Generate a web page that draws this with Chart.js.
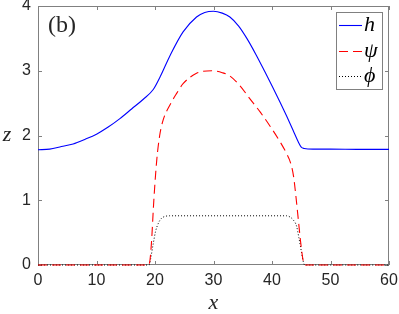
<!DOCTYPE html>
<html>
<head>
<meta charset="utf-8">
<script src="https://cdn.jsdelivr.net/npm/chart.js@4.4.1/dist/chart.umd.min.js"></script>
<style>
  html, body { margin: 0; padding: 0; background: #fff; }
  canvas { display: block; }
</style>
</head>
<body>
<canvas id="profileChart" width="399" height="314"></canvas>
<script>
// --- data ---
const hX   = [0, 2, 4, 6, 8, 10, 12, 14, 16, 18, 19.7, 20.9, 22.6, 24.8, 27.1, 28.5, 30, 31.5, 32.8, 34.3, 35.7, 37.2, 38.7, 40.1, 41.4, 42.5, 43.6, 44.5, 45.0, 45.5, 47, 50, 55, 60];
const hZ   = [1.78, 1.79, 1.83, 1.87, 1.94, 2.02, 2.13, 2.26, 2.41, 2.56, 2.71, 2.91, 3.24, 3.60, 3.83, 3.90, 3.92, 3.89, 3.83, 3.69, 3.50, 3.26, 3.00, 2.75, 2.51, 2.30, 2.08, 1.90, 1.82, 1.80, 1.79, 1.79, 1.785, 1.785];

const psiX = [0, 18.8, 19.1, 19.4, 19.8, 20.3, 20.8, 21.4, 22.6, 23.7, 24.8, 27.1, 29.7, 31.5, 32.8, 34.5, 36.2, 38, 39.7, 41.4, 42.5, 43.2, 43.7, 44.1, 44.5, 44.9, 45.3, 45.6, 60];
const psiZ = [0, 0, 0.05, 0.35, 1.0, 1.62, 2.0, 2.24, 2.48, 2.65, 2.80, 2.96, 3.0, 2.97, 2.92, 2.77, 2.57, 2.36, 2.14, 1.90, 1.72, 1.57, 1.36, 1.05, 0.7, 0.35, 0.08, 0, 0];

const phiX = [0, 19.0, 19.3, 19.7, 20.1, 20.6, 21.1, 21.7, 22.5, 30, 42.5, 43.1, 43.6, 44.2, 44.6, 45.0, 45.35, 45.6, 60];
const phiZ = [0, 0, 0.12, 0.33, 0.52, 0.65, 0.72, 0.75, 0.76, 0.76, 0.76, 0.74, 0.70, 0.60, 0.42, 0.22, 0.05, 0, 0];

const xTicks = [0, 10, 20, 30, 40, 50, 60];
const zTicks = [0, 1, 2, 3, 4];
const seriesNames = ['h', 'ψ', 'ϕ'];

const toPoints = (xs, ys) => xs.map((x, i) => ({ x: x, y: ys[i] }));

const AXIS_COLOR = '#808080';
const TEXT_COLOR = '#262626';
const SERIF_IT = 'italic 22px "Liberation Serif", "DejaVu Serif", serif';

// no overhang padding for tick labels, fixed axis sizes
function fixBox(size) {
    return s => {
        if (s.isHorizontal()) s.height = size; else s.width = size;
        s.paddingLeft = s.paddingRight = s.paddingTop = s.paddingBottom = 0;
    };
}

// frame with inward ticks, axis titles, panel tag and legend box (MATLAB look)
const matlabFrame = {
    id: 'matlabFrame',
    beforeDatasetsDraw(chart) {
        const ctx = chart.ctx;
        const a = chart.chartArea;
        const xs = chart.scales.x, ys = chart.scales.y;
        ctx.save();
        ctx.strokeStyle = AXIS_COLOR;
        ctx.lineWidth = 1;
        ctx.strokeRect(Math.round(a.left) + 0.5, Math.round(a.top) + 0.5,
                       Math.round(a.right - a.left) - 1, Math.round(a.bottom - a.top) - 1);
        ctx.beginPath();
        xTicks.forEach(v => {
            const px = Math.round(xs.getPixelForValue(v)) + 0.5;
            ctx.moveTo(px, a.bottom); ctx.lineTo(px, a.bottom - 4);
            ctx.moveTo(px, a.top); ctx.lineTo(px, a.top + 4);
        });
        zTicks.forEach(v => {
            const py = Math.round(ys.getPixelForValue(v)) + 0.5;
            ctx.moveTo(a.left, py); ctx.lineTo(a.left + 4, py);
            ctx.moveTo(a.right, py); ctx.lineTo(a.right - 4, py);
        });
        ctx.stroke();
        ctx.restore();
    },
    afterDraw(chart) {
        const ctx = chart.ctx;
        const a = chart.chartArea;
        ctx.save();
        ctx.fillStyle = TEXT_COLOR;
        ctx.font = SERIF_IT;
        ctx.textAlign = 'center';
        ctx.textBaseline = 'middle';
        ctx.fillText('x', (a.left + a.right) / 2, 303);
        ctx.fillText('z', 7, (a.top + a.bottom) / 2);

        // panel tag
        ctx.font = '24px "Liberation Serif", "DejaVu Serif", serif';
        ctx.textAlign = 'left';
        ctx.textBaseline = 'alphabetic';
        ctx.fillText('(b)', a.left + 10, 32);

        // legend
        const bx = 336.5, by = 12.5, bw = 46, bh = 77;
        ctx.fillStyle = '#fff';
        ctx.fillRect(bx, by, bw, bh);
        ctx.strokeStyle = AXIS_COLOR;
        ctx.lineWidth = 1;
        ctx.strokeRect(bx, by, bw, bh);
        const rows = [25, 51, 76];
        chart.data.datasets.forEach((ds, i) => {
            const y = rows[i] + 0.5;
            ctx.save();
            ctx.strokeStyle = ds.borderColor;
            ctx.lineWidth = ds.borderWidth;
            ctx.setLineDash(ds.borderDash || []);
            ctx.beginPath();
            ctx.moveTo(339, y);
            ctx.lineTo(362, y);
            ctx.stroke();
            ctx.restore();
            ctx.fillStyle = '#000';
            ctx.font = SERIF_IT;
            ctx.textBaseline = 'middle';
            ctx.fillText(seriesNames[i], 364, rows[i]);
        });
        ctx.restore();
    }
};

const chart = new Chart(document.getElementById('profileChart'), {
    type: 'line',
    data: {
        datasets: [
            {
                label: seriesNames[0],
                data: toPoints(hX, hZ),
                borderColor: '#0000ff',
                borderWidth: 1.1
            },
            {
                label: seriesNames[1],
                data: toPoints(psiX, psiZ),
                borderColor: '#ff0000',
                borderWidth: 1.1,
                borderDash: [9, 5]
            },
            {
                label: seriesNames[2],
                data: toPoints(phiX, phiZ),
                borderColor: '#000000',
                borderWidth: 1,
                borderDash: [1, 2]
            }
        ]
    },
    options: {
        responsive: false,
        animation: false,
        devicePixelRatio: 1,
        layout: { padding: { top: 6, right: 10, left: 0, bottom: 0 } },
        elements: {
            point: { radius: 0 },
            line: { cubicInterpolationMode: 'monotone', fill: false }
        },
        datasets: { line: { clip: false } },
        plugins: {
            legend: { display: false },
            tooltip: { enabled: false }
        },
        scales: {
            x: {
                type: 'linear',
                min: 0,
                max: 60,
                grid: { display: false, drawTicks: false },
                border: { display: false },
                afterBuildTicks: s => { s.ticks = xTicks.map(v => ({ value: v })); },
                afterFit: fixBox(49),
                ticks: {
                    color: TEXT_COLOR,
                    padding: 6,
                    maxRotation: 0,
                    font: { family: '"Liberation Sans", Arial, sans-serif', size: 16 }
                }
            },
            y: {
                type: 'linear',
                min: 0,
                max: 4,
                grid: { display: false, drawTicks: false },
                border: { display: false },
                afterBuildTicks: s => { s.ticks = zTicks.map(v => ({ value: v })); },
                afterFit: fixBox(38),
                ticks: {
                    color: TEXT_COLOR,
                    padding: 7,
                    font: { family: '"Liberation Sans", Arial, sans-serif', size: 16 }
                }
            }
        }
    },
    plugins: [matlabFrame]
});
</script>
</body>
</html>
